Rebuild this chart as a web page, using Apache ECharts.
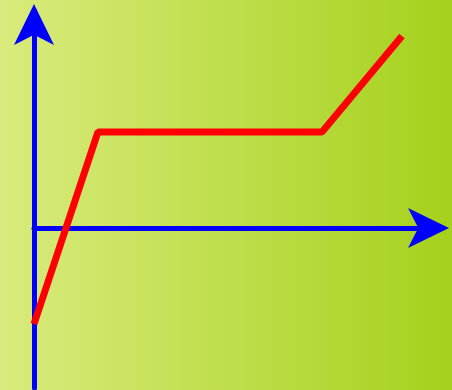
<!DOCTYPE html>
<html lang="en">
<head>
    <meta charset="UTF-8">
    <title>ECharts - piecewise line</title>
    <script src="https://cdn.jsdelivr.net/npm/echarts@6/dist/echarts.min.js"></script>
    <style>
        html, body { margin: 0; padding: 0; }
        #main { width: 452px; height: 390px; }
    </style>
</head>
<body>
    <div id="main"></div>
<script type="text/javascript">
    // data points of the red polyline
    var xValues = [0, 2, 9, 11.5];
    var yValues = [-3, 3, 3, 6];

    var points = [];
    for (var i = 0; i < xValues.length; i++) {
        points.push([xValues[i], yValues[i]]);
    }

    var myChart = echarts.init(document.getElementById('main'));

    var axisStyle = {
        show: true,
        onZero: true,
        symbol: ['none', 'arrow'],
        symbolSize: [30, 41],
        symbolOffset: [0, 7],
        lineStyle: { color: '#0000ff', width: 5 }
    };

    var option = {
        animation: false,
        backgroundColor: {
            type: 'linear', x: 0, y: 0, x2: 1, y2: 0,
            colorStops: [
                { offset: 0, color: '#d9eb7d' },
                { offset: 1, color: '#a5d11c' }
            ]
        },
        grid: { left: 34, right: 10, top: 11, bottom: 2 },
        xAxis: {
            type: 'value',
            min: 0,
            max: 12.75,
            axisLine: axisStyle,
            axisTick: { show: false },
            axisLabel: { show: false },
            splitLine: { show: false }
        },
        yAxis: {
            type: 'value',
            min: -5,
            max: 6.78,
            axisLine: axisStyle,
            axisTick: { show: false },
            axisLabel: { show: false },
            splitLine: { show: false }
        },
        series: [{
            type: 'line',
            data: points,
            showSymbol: false,
            symbol: 'none',
            lineStyle: { color: '#ff0000', width: 7, cap: 'butt', join: 'bevel' }
        }]
    };

    myChart.setOption(option);
</script>
</body>
</html>
